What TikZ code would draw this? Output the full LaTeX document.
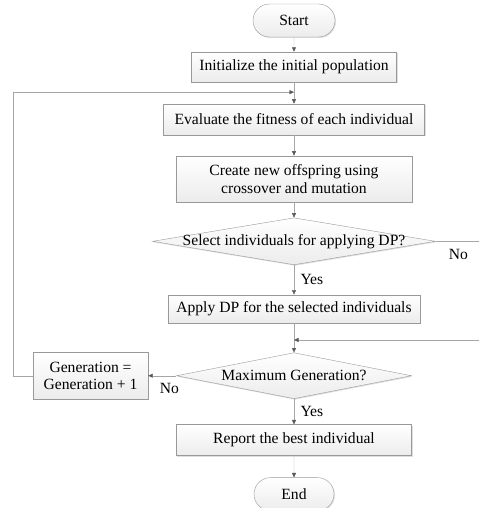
\documentclass[tikz,border=0pt]{standalone}
\usepackage{fontspec}
\setmainfont{Liberation Serif}
\usetikzlibrary{shapes.geometric,shapes.misc,arrows.meta,shadows}

\tikzset{
  flow/.style={draw=gray!80,top color=white,bottom color=gray!15,
    drop shadow={opacity=0.25,shadow xshift=1pt,shadow yshift=-1pt},
    inner sep=0pt,font=\fontsize{15.6}{17.5}\selectfont,align=center},
  box/.style={flow,rectangle},
  term/.style={flow,rounded rectangle},
  dec/.style={flow,diamond,aspect=1},
  arr/.style={draw=gray!70,-{Triangle[length=4.5pt,width=4pt,color=black!65]}},
  line/.style={draw=gray!70},
  lab/.style={font=\fontsize{15.6}{17.5}\selectfont}
}

\begin{document}
\begin{tikzpicture}
      \useasboundingbox (-294pt,20.5pt) rectangle (185pt,-487.5pt);
      \clip (-294pt,20.5pt) rectangle (185pt,-487.5pt);

      \node[term,minimum width=82pt,minimum height=33pt] (1) {Start};
      \node[box,below of=1,yshift=-18pt,minimum width=205pt,minimum height=30pt] (2) {Initialize the initial population};
      \node[box,below of=2,yshift=-24pt,minimum width=261pt,minimum height=31pt] (3) {Evaluate the fitness of each individual};
      \node[box,below of=3,yshift=-31pt,minimum width=236pt,minimum height=46pt] (4) {Create new offspring using\\crossover and mutation};
      \node[dec,below of=4,yshift=-34pt,minimum width=283pt,minimum height=47pt,
        label={[lab]center:Select individuals for applying DP?}] (5) {};
      \node[box,below of=5,yshift=-39pt,minimum width=252pt,minimum height=28pt] (6) {Apply DP for the selected individuals};
      \node[dec,below of=6,yshift=-38.5pt,minimum width=235pt,minimum height=46pt,
        label={[lab]center:Maximum Generation?}] (7) {};
      \node[box,below of=7,yshift=-36pt,minimum width=235pt,minimum height=31pt] (8) {Report the best individual};
      \node[term,below of=8,yshift=-25.5pt,minimum width=80pt,minimum height=33pt] (9) {End};
      \node[box,left of=7,xshift=-175pt,minimum width=115pt,minimum height=47pt] (10) {Generation =\\Generation + 1};

      \coordinate (j1) at ([yshift=-10pt]2.south);
      \coordinate (j2) at ([yshift=-17pt]6.south);
      \coordinate (r1) at ([xshift=60pt]5.east);
      \coordinate (r2) at (j2 -| r1);

      \draw[arr] (1) -- (2);
      \draw[arr] (2) -- (3);
      \draw[arr] (3) -- (4);
      \draw[arr] (4) -- (5);
      \draw[arr] (5) -- node[lab,right,xshift=3pt] {Yes} (6);
      \draw[line] (5.east) -- node[lab,below,pos=0.38,yshift=-4pt] {No} (r1);
      \draw[arr] (6) -- (7);
      \draw[arr] (r2) -- (j2);
      \draw[arr] (7) -- node[lab,right,xshift=3pt] {Yes} (8);
      \draw[arr] (8) -- (9);
      \draw[arr] (7.west) -- node[lab,below,pos=0.25,yshift=-4pt] {No} (10.east);
      \draw[arr] (10.west) -- ++(-20pt,0) |- (j1);
    \end{tikzpicture}
\end{document}
